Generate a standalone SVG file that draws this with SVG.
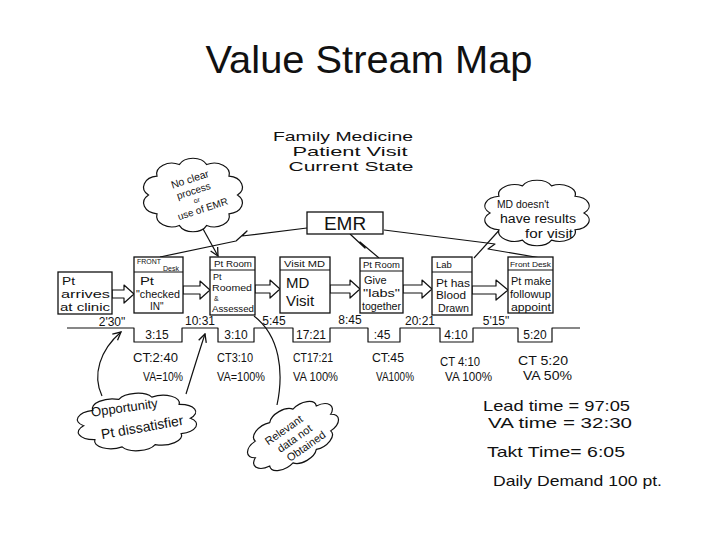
<svg xmlns="http://www.w3.org/2000/svg" xmlns:xlink="http://www.w3.org/1999/xlink" width="720" height="540" viewBox="0 0 720 540">
<defs>
<style>
.t{font-family:"Liberation Sans",Arial,sans-serif;fill:#111}
.box{fill:#fff;stroke:#111;stroke-width:1.3}
.ln{fill:none;stroke:#111;stroke-width:1.2;stroke-linejoin:round}
.flow{fill:#fff;stroke:#111;stroke-width:1.2;stroke-linejoin:round}
.cl{fill:#fff;stroke:#111;stroke-width:1.2}
.m{text-anchor:middle}
</style>
<path id="cloud" vector-effect="non-scaling-stroke" d="M50,0 A17,17 0 0 1 40.45,29.39 A17,17 0 0 1 15.45,47.55 A17,17 0 0 1 -15.45,47.55 A17,17 0 0 1 -40.45,29.39 A17,17 0 0 1 -50,0 A17,17 0 0 1 -40.45,-29.39 A17,17 0 0 1 -15.45,-47.55 A17,17 0 0 1 15.45,-47.55 A17,17 0 0 1 40.45,-29.39 A17,17 0 0 1 50,0 Z"/>
<marker id="ah" markerWidth="10" markerHeight="10" refX="9" refY="5" orient="auto" markerUnits="userSpaceOnUse">
<path d="M1,1 L9,5 L1,9" fill="none" stroke="#111" stroke-width="1.3"/>
</marker>
</defs>
<rect width="720" height="540" fill="#fff"/>
<text class="t m" x="369" y="73" font-size="39" textLength="327" lengthAdjust="spacingAndGlyphs">Value Stream Map</text>

<g id="heading">
<text class="t m" x="343" y="141" font-size="13" textLength="140" lengthAdjust="spacingAndGlyphs">Family Medicine</text>
<text class="t m" x="350" y="156" font-size="13" textLength="115" lengthAdjust="spacingAndGlyphs">Patient Visit</text>
<text class="t m" x="351" y="171" font-size="13" textLength="125" lengthAdjust="spacingAndGlyphs">Current State</text>
</g>

<g id="connectors">
<path class="ln" d="M307,228 L242,236 L247,231 L236,241 L160,257"/>
<path class="ln" d="M350,234 L365,248 L360,242 L379,258"/>
<path class="ln" d="M384,230 L495,244 L488,249 L541,258"/>
<path class="ln" d="M197,218 L218,256" marker-end="url(#ah)"/>
<path class="ln" d="M503,226 L474,258"/>
<path class="ln" d="M102,396 C92,375 100,350 121,332" marker-end="url(#ah)"/>
<path class="ln" d="M186,394 C192,375 198,355 205,334" marker-end="url(#ah)"/>
<path class="ln" d="M277,405 C284,372 280,336 254,316"/>
<path class="flow" d="M112,290 H124 V285 L134,294 L124,303 V298 H112 Z"/>
<path class="flow" d="M183,286 H200 V281 L210,290 L200,299 V294 H183 Z"/>
<path class="flow" d="M255,285 H270 V280 L280,289 L270,298 V293 H255 Z"/>
<path class="flow" d="M330,285 H350 V280 L360,289 L350,298 V293 H330 Z"/>
<path class="flow" d="M403,285 H422 V280 L432,289 L422,298 V293 H403 Z"/>
<path class="flow" d="M472,286 H496 V280 L508,290 L496,300 V294 H472 Z"/>
</g>

<g id="emr">
<rect class="box" x="307" y="212" width="76" height="22"/>
<text class="t m" x="345" y="230" font-size="19">EMR</text>
</g>

<g id="cloud-emr">
<use xlink:href="#cloud" href="#cloud" class="cl" transform="translate(193,195) scale(0.89,0.64)"/>
<g transform="rotate(-18,195,195)">
<text class="t m" x="195" y="182" font-size="10.5">No clear</text>
<text class="t m" x="195" y="194" font-size="10">process</text>
<text class="t m" x="195" y="203" font-size="7">or</text>
<text class="t m" x="198" y="214" font-size="10">use of EMR</text>
</g>
</g>

<g id="cloud-md">
<use xlink:href="#cloud" href="#cloud" class="cl" transform="translate(537,213) scale(0.94,0.57)"/>
<text class="t" x="497" y="208" font-size="11" textLength="52" lengthAdjust="spacingAndGlyphs">MD doesn't</text>
<text class="t" x="500" y="223" font-size="12" textLength="76" lengthAdjust="spacingAndGlyphs">have results</text>
<text class="t" x="525" y="238" font-size="12" textLength="48" lengthAdjust="spacingAndGlyphs">for visit</text>
</g>

<g id="arrives">
<rect class="box" x="58" y="272" width="54" height="42"/>
<text class="t" x="62" y="285" font-size="11.5" textLength="13" lengthAdjust="spacingAndGlyphs">Pt</text>
<text class="t" x="61" y="298" font-size="11.5" textLength="49" lengthAdjust="spacingAndGlyphs">arrives</text>
<text class="t" x="60" y="311" font-size="11.5" textLength="50" lengthAdjust="spacingAndGlyphs">at clinic</text>
</g>

<g id="front-desk">
<rect class="box" x="134" y="257" width="49" height="56"/>
<line class="ln" x1="134" y1="272" x2="183" y2="272"/>
<text class="t" x="137" y="264" font-size="7.5" textLength="24" lengthAdjust="spacingAndGlyphs">FRONT</text>
<text class="t" x="163" y="271" font-size="6.5" textLength="16" lengthAdjust="spacingAndGlyphs">Desk</text>
<text class="t" x="140" y="285" font-size="11" textLength="14" lengthAdjust="spacingAndGlyphs">Pt</text>
<text class="t" x="136" y="298" font-size="11" textLength="44" lengthAdjust="spacingAndGlyphs">"checked</text>
<text class="t" x="150" y="310" font-size="10">IN"</text>
</g>

<g id="pt-room">
<rect class="box" x="210" y="257" width="45" height="58"/>
<line class="ln" x1="210" y1="270" x2="255" y2="270"/>
<text class="t" x="214" y="267" font-size="8.5" textLength="38" lengthAdjust="spacingAndGlyphs">Pt Room</text>
<text class="t" x="213" y="280" font-size="9">Pt</text>
<text class="t" x="212" y="291" font-size="9" textLength="40" lengthAdjust="spacingAndGlyphs">Roomed</text>
<text class="t" x="214" y="301" font-size="7">&amp;</text>
<text class="t" x="212" y="312" font-size="9" textLength="42" lengthAdjust="spacingAndGlyphs">Assessed</text>
</g>

<g id="visit-md">
<rect class="box" x="280" y="257" width="50" height="56"/>
<line class="ln" x1="280" y1="270" x2="330" y2="270"/>
<text class="t" x="284" y="267" font-size="8.5" textLength="41" lengthAdjust="spacingAndGlyphs">Visit MD</text>
<text class="t" x="286" y="288" font-size="15">MD</text>
<text class="t" x="286" y="306" font-size="15">Visit</text>
</g>

<g id="pt-room-labs">
<rect class="box" x="360" y="258" width="43" height="55"/>
<line class="ln" x1="360" y1="271" x2="403" y2="271"/>
<text class="t" x="363" y="268" font-size="8.5" textLength="37" lengthAdjust="spacingAndGlyphs">Pt Room</text>
<text class="t" x="364" y="284" font-size="11">Give</text>
<text class="t" x="363" y="297" font-size="11" textLength="37" lengthAdjust="spacingAndGlyphs">"labs"</text>
<text class="t" x="362" y="310" font-size="10" textLength="39" lengthAdjust="spacingAndGlyphs">together</text>
</g>

<g id="lab">
<rect class="box" x="432" y="257" width="40" height="58"/>
<line class="ln" x1="432" y1="272" x2="472" y2="272"/>
<text class="t" x="436" y="268" font-size="9.5">Lab</text>
<text class="t" x="436" y="287" font-size="10" textLength="34" lengthAdjust="spacingAndGlyphs">Pt has</text>
<text class="t" x="436" y="299" font-size="10" textLength="30" lengthAdjust="spacingAndGlyphs">Blood</text>
<text class="t" x="438" y="312" font-size="10" textLength="31" lengthAdjust="spacingAndGlyphs">Drawn</text>
</g>

<g id="front-desk-2">
<rect class="box" x="508" y="257" width="45" height="56"/>
<line class="ln" x1="508" y1="270" x2="553" y2="270"/>
<text class="t" x="510" y="267" font-size="7.5" textLength="41" lengthAdjust="spacingAndGlyphs">Front Desk</text>
<text class="t" x="511" y="285" font-size="11" textLength="40" lengthAdjust="spacingAndGlyphs">Pt make</text>
<text class="t" x="510" y="298" font-size="11" textLength="41" lengthAdjust="spacingAndGlyphs">followup</text>
<text class="t" x="511" y="311" font-size="11" textLength="40" lengthAdjust="spacingAndGlyphs">appoint</text>
</g>

<g id="timeline">
<path class="ln" d="M67,328 H134 V342 H182 V328 H218 V342 H254 V328 H293 V342 H330 V328 H368 V342 H400 V328 H440 V342 H473 V328 H518 V342 H552 V328 H580"/>
<text class="t m" x="112" y="326" font-size="12">2'30"</text>
<text class="t m" x="157" y="339" font-size="12">3:15</text>
<text class="t m" x="200" y="325" font-size="12">10:31</text>
<text class="t m" x="236" y="339" font-size="12">3:10</text>
<text class="t m" x="274" y="325" font-size="12">5:45</text>
<text class="t m" x="311" y="339" font-size="12">17:21</text>
<text class="t m" x="350" y="324" font-size="12">8:45</text>
<text class="t m" x="382" y="339" font-size="12">:45</text>
<text class="t m" x="420" y="325" font-size="12">20:21</text>
<text class="t m" x="456" y="339" font-size="12">4:10</text>
<text class="t m" x="496" y="325" font-size="12">5'15"</text>
<text class="t m" x="535" y="339" font-size="12">5:20</text>
</g>

<g id="metrics">
<text class="t" x="133" y="362" font-size="13" textLength="45" lengthAdjust="spacingAndGlyphs">CT:2:40</text>
<text class="t" x="143" y="381" font-size="12" textLength="40" lengthAdjust="spacingAndGlyphs">VA=10%</text>
<text class="t" x="217" y="362" font-size="13" textLength="36" lengthAdjust="spacingAndGlyphs">CT3:10</text>
<text class="t" x="217" y="381" font-size="12" textLength="48" lengthAdjust="spacingAndGlyphs">VA=100%</text>
<text class="t" x="293" y="362" font-size="13" textLength="40" lengthAdjust="spacingAndGlyphs">CT17:21</text>
<text class="t" x="293" y="381" font-size="12" textLength="45" lengthAdjust="spacingAndGlyphs">VA 100%</text>
<text class="t" x="372" y="362" font-size="13" textLength="32" lengthAdjust="spacingAndGlyphs">CT:45</text>
<text class="t" x="376" y="381" font-size="12" textLength="38" lengthAdjust="spacingAndGlyphs">VA100%</text>
<text class="t" x="440" y="366" font-size="12" textLength="40" lengthAdjust="spacingAndGlyphs">CT 4:10</text>
<text class="t" x="445" y="381" font-size="12" textLength="47" lengthAdjust="spacingAndGlyphs">VA 100%</text>
<text class="t" x="518" y="365" font-size="13" textLength="50" lengthAdjust="spacingAndGlyphs">CT 5:20</text>
<text class="t" x="523" y="380" font-size="13" textLength="49" lengthAdjust="spacingAndGlyphs">VA 50%</text>
</g>

<g id="cloud-opportunity">
<use xlink:href="#cloud" href="#cloud" class="cl" transform="translate(137,422) rotate(-4) scale(1.07,0.5)"/>
<text class="t m" x="125" y="412" font-size="13" transform="rotate(-8,125,412)">Opportunity</text>
<text class="t m" x="143" y="432" font-size="14" transform="rotate(-10,143,432)">Pt dissatisfier</text>
</g>

<g id="cloud-relevant">
<use xlink:href="#cloud" href="#cloud" class="cl" transform="translate(293,436) rotate(-30) scale(0.87,0.49)"/>
<g transform="translate(293,438) rotate(-35)">
<text class="t m" x="-3" y="-8" font-size="11">Relevant</text>
<text class="t m" x="1" y="5" font-size="11">data not</text>
<text class="t m" x="6" y="18" font-size="11">Obtained</text>
</g>
</g>

<g id="summary">
<text class="t" x="483" y="411" font-size="15" textLength="147" lengthAdjust="spacingAndGlyphs">Lead time = 97:05</text>
<text class="t" x="488" y="428" font-size="15" textLength="144" lengthAdjust="spacingAndGlyphs">VA time = 32:30</text>
<text class="t" x="487" y="457" font-size="15" textLength="138" lengthAdjust="spacingAndGlyphs">Takt Time= 6:05</text>
<text class="t" x="493" y="486" font-size="15" textLength="169" lengthAdjust="spacingAndGlyphs">Daily Demand 100 pt.</text>
</g>
</svg>
